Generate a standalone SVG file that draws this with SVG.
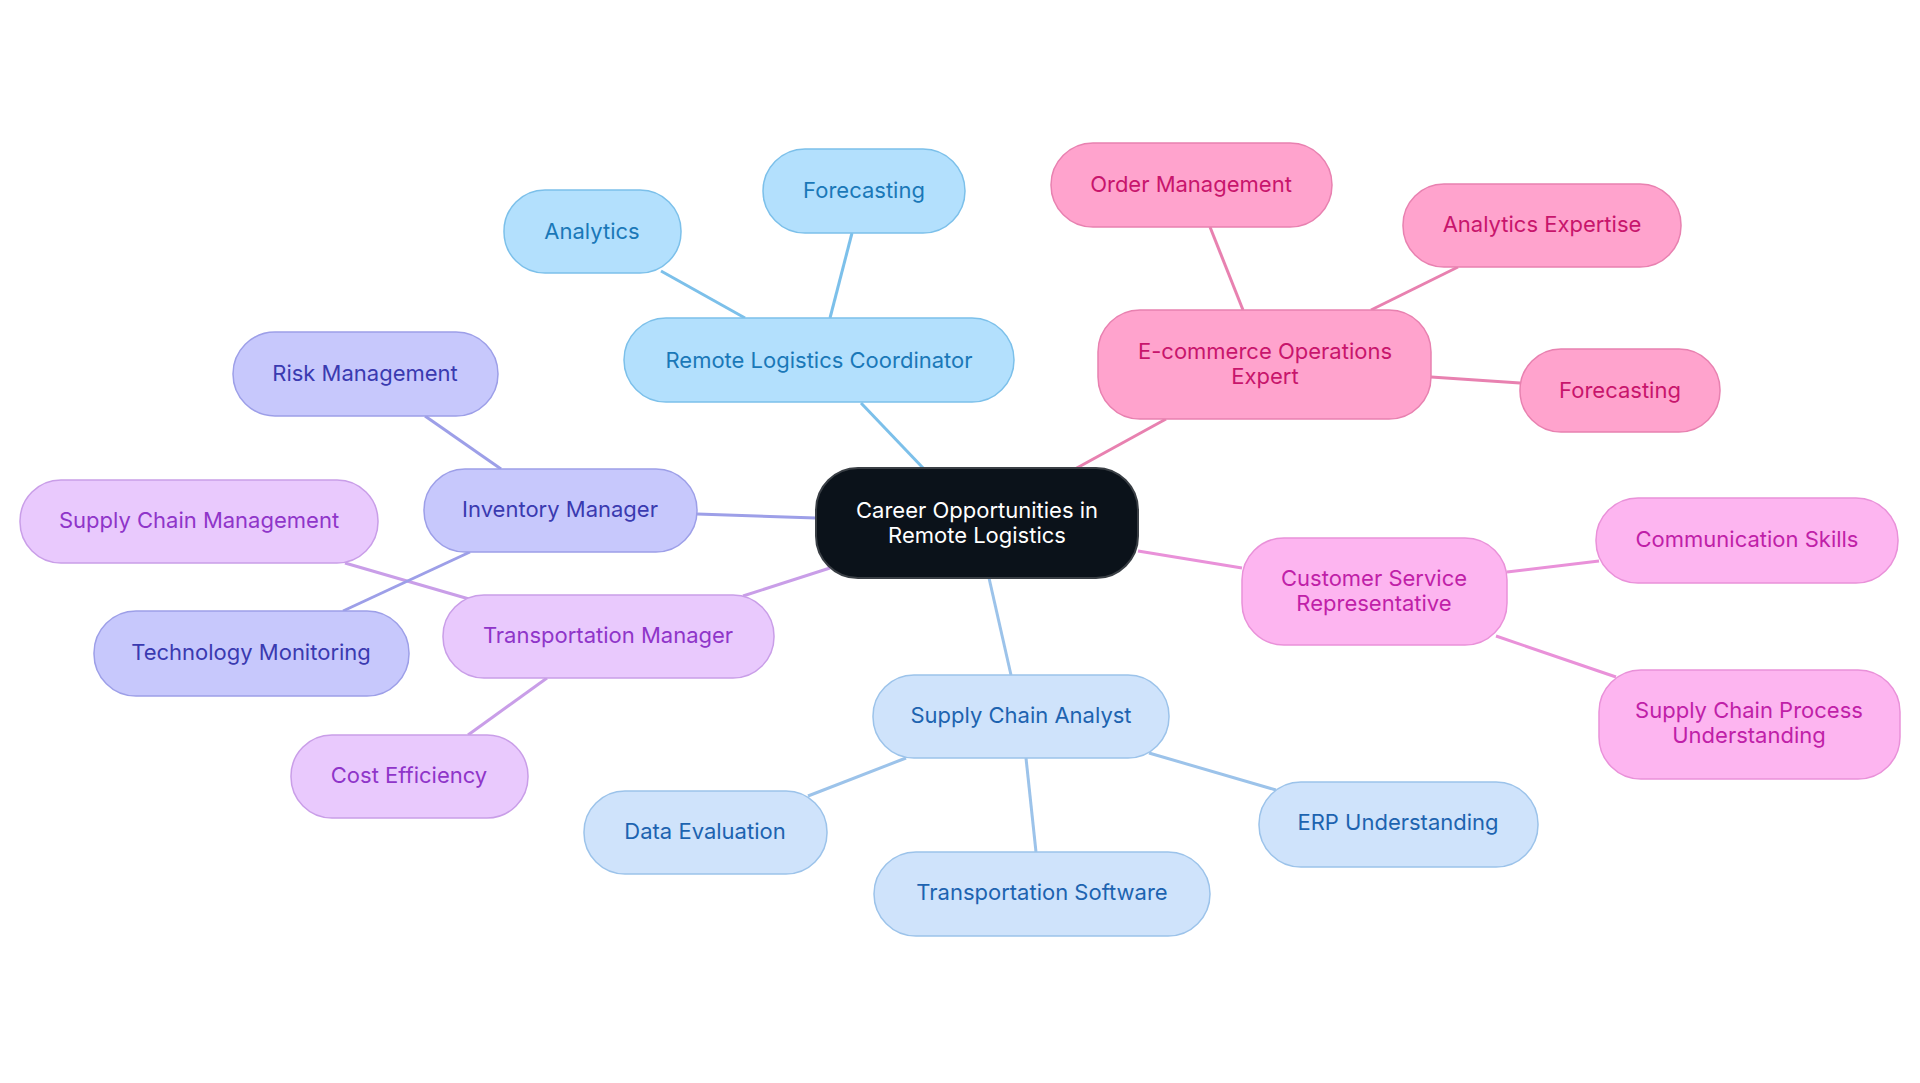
<svg xmlns="http://www.w3.org/2000/svg" width="1920" height="1083" viewBox="0 0 1920 1083">
<style>
text{font-family:Inter,"Noto Sans",sans-serif;font-size:22px;text-anchor:middle;dominant-baseline:central}
.c rect{fill:#0b121a;stroke:#3a3f45;stroke-width:2}.c text{fill:#fff}
.b rect{fill:#b3e0fd;stroke:#7cc0ea;stroke-width:1.5}.b text{fill:#1a78b8}
.p rect{fill:#ffa3cd;stroke:#e881b0;stroke-width:1.5}.p text{fill:#c8156c}
.m rect{fill:#fdb5f0;stroke:#e991d9;stroke-width:1.5}.m text{fill:#c01fa8}
.s rect{fill:#cfe3fb;stroke:#9cc3ea;stroke-width:1.5}.s text{fill:#1d63b0}
.v rect{fill:#e9c9fd;stroke:#c99ee8;stroke-width:1.5}.v text{fill:#8f35c9}
.i rect{fill:#c7c8fc;stroke:#9d9fe8;stroke-width:1.5}.i text{fill:#3a3ab0}
line{stroke-width:3}
</style>
<rect width="1920" height="1083" fill="#fff"/>
<g id="connectors">
<line x1="924" y1="469" x2="861" y2="403" stroke="#7cc0ea"/>
<line x1="745" y1="318" x2="661" y2="271" stroke="#7cc0ea"/>
<line x1="830" y1="318" x2="852" y2="233" stroke="#7cc0ea"/>
<line x1="1075" y1="469" x2="1166" y2="419" stroke="#e881b0"/>
<line x1="1243" y1="310" x2="1210" y2="227" stroke="#e881b0"/>
<line x1="1371" y1="310" x2="1458" y2="267" stroke="#e881b0"/>
<line x1="1431" y1="377" x2="1520" y2="383" stroke="#e881b0"/>
<line x1="1138" y1="551" x2="1242" y2="568" stroke="#e991d9"/>
<line x1="1507" y1="572" x2="1599" y2="561" stroke="#e991d9"/>
<line x1="1496" y1="636" x2="1616" y2="677" stroke="#e991d9"/>
<line x1="989" y1="578" x2="1011" y2="675" stroke="#9cc3ea"/>
<line x1="906" y1="758" x2="808" y2="796" stroke="#9cc3ea"/>
<line x1="1026" y1="758" x2="1036" y2="852" stroke="#9cc3ea"/>
<line x1="1149" y1="753" x2="1276" y2="790" stroke="#9cc3ea"/>
<line x1="830" y1="568" x2="743" y2="596" stroke="#c99ee8"/>
<line x1="547" y1="678" x2="468" y2="735" stroke="#c99ee8"/>
<line x1="469" y1="599" x2="345" y2="563" stroke="#c99ee8"/>
<line x1="816" y1="518" x2="697" y2="514" stroke="#9d9fe8"/>
<line x1="501" y1="469" x2="425" y2="416" stroke="#9d9fe8"/>
<line x1="470" y1="552" x2="343" y2="611" stroke="#9d9fe8"/>
</g>
<g id="center" class="c"><rect x="816" y="468" width="322" height="110" rx="42"/><text x="977" y="510">Career Opportunities in</text><text x="977" y="535">Remote Logistics</text></g>
<g id="rlc" class="b"><rect x="624" y="318" width="390" height="84" rx="42"/><text x="819" y="360">Remote Logistics Coordinator</text></g>
<g id="analytics" class="b"><rect x="504" y="190" width="177" height="83" rx="41"/><text x="592" y="231">Analytics</text></g>
<g id="forecasting1" class="b"><rect x="763" y="149" width="202" height="84" rx="42"/><text x="864" y="190">Forecasting</text></g>
<g id="ecom" class="p"><rect x="1098" y="310" width="333" height="109" rx="42"/><text x="1265" y="351">E-commerce Operations</text><text x="1265" y="376">Expert</text></g>
<g id="order" class="p"><rect x="1051" y="143" width="281" height="84" rx="42"/><text x="1191" y="184">Order Management</text></g>
<g id="analyticsexp" class="p"><rect x="1403" y="184" width="278" height="83" rx="41"/><text x="1542" y="224">Analytics Expertise</text></g>
<g id="forecasting2" class="p"><rect x="1520" y="349" width="200" height="83" rx="41"/><text x="1620" y="390">Forecasting</text></g>
<g id="csr" class="m"><rect x="1242" y="538" width="265" height="107" rx="42"/><text x="1374" y="578">Customer Service</text><text x="1374" y="603">Representative</text></g>
<g id="comm" class="m"><rect x="1596" y="498" width="302" height="85" rx="42"/><text x="1747" y="539">Communication Skills</text></g>
<g id="scpu" class="m"><rect x="1599" y="670" width="301" height="109" rx="42"/><text x="1749" y="710">Supply Chain Process</text><text x="1749" y="735">Understanding</text></g>
<g id="sca" class="s"><rect x="873" y="675" width="296" height="83" rx="41"/><text x="1021" y="715">Supply Chain Analyst</text></g>
<g id="de" class="s"><rect x="584" y="791" width="243" height="83" rx="41"/><text x="705" y="831">Data Evaluation</text></g>
<g id="ts" class="s"><rect x="874" y="852" width="336" height="84" rx="42"/><text x="1042" y="892">Transportation Software</text></g>
<g id="erp" class="s"><rect x="1259" y="782" width="279" height="85" rx="42"/><text x="1398" y="822">ERP Understanding</text></g>
<g id="tm" class="v"><rect x="443" y="595" width="331" height="83" rx="41"/><text x="608" y="635">Transportation Manager</text></g>
<g id="cost" class="v"><rect x="291" y="735" width="237" height="83" rx="41"/><text x="409" y="775">Cost Efficiency</text></g>
<g id="scm" class="v"><rect x="20" y="480" width="358" height="83" rx="41"/><text x="199" y="520">Supply Chain Management</text></g>
<g id="im" class="i"><rect x="424" y="469" width="273" height="83" rx="41"/><text x="560" y="509">Inventory Manager</text></g>
<g id="risk" class="i"><rect x="233" y="332" width="265" height="84" rx="42"/><text x="365" y="373">Risk Management</text></g>
<g id="tech" class="i"><rect x="94" y="611" width="315" height="85" rx="42"/><text x="251" y="652">Technology Monitoring</text></g>
</svg>
